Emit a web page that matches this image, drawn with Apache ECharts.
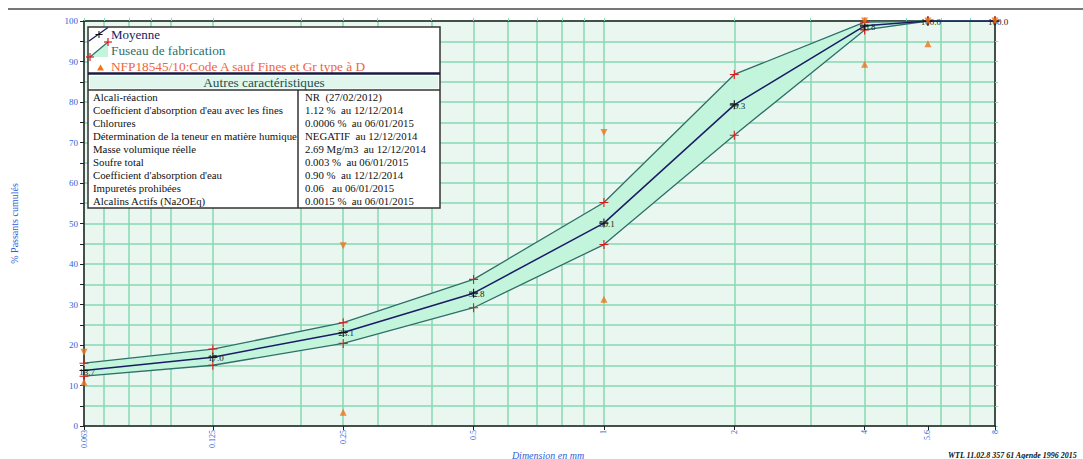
<!DOCTYPE html>
<html>
<head>
<meta charset="utf-8">
<script src="https://cdn.jsdelivr.net/npm/echarts@6.0.0/dist/echarts.min.js"></script>
<style>
  html, body { margin: 0; padding: 0; background: #ffffff; }
  #chart { width: 1083px; height: 459px; }
</style>
</head>
<body>
<div id="chart"></div>
<script>
// Sieve sizes (mm) and passing percentages
const tamis = [0.063, 0.125, 0.25, 0.5, 1, 2, 4, 5.6, 8];
const moyenne = [13.7, 17.0, 23.1, 32.8, 50.1, 79.3, 98.8, 100.0, 100.0];
const fuseauHaut = [15.5, 19.0, 25.5, 36.2, 55.2, 86.8, 99.7, 100, 100];
const fuseauBas = [12.3, 15.0, 20.4, 29.2, 44.8, 71.8, 97.8, 100, 100];

// NF P 18-545 limits (code A)
const tamisNorme = [0.063, 0.25, 1, 4, 5.6, 8];
const normeMax = [18.2, 44.5, 72.5, 100, 100, 100];
const normeMin = [10.8, 3.4, 31.3, 89.3, 94.4, null];

// Axis ticks
const tamisLabels = [0.063, 0.125, 0.25, 0.5, 1, 2, 4, 5.6, 8];
const tamisGrille = [0.063, 0.07, 0.08, 0.09, 0.1, 0.125, 0.2, 0.25, 0.3, 0.4, 0.5,
                     0.6, 0.7, 0.8, 0.9, 1, 2, 3, 4, 5, 6, 7, 8];

// Other characteristics table
const caracNoms = [
  "Alcali-réaction",
  "Coefficient d'absorption d'eau avec les fines",
  "Chlorures",
  "Détermination de la teneur en matière humique",
  "Masse volumique réelle",
  "Soufre total",
  "Coefficient d'absorption d'eau",
  "Impuretés prohibées",
  "Alcalins Actifs (Na2OEq)"
];
const caracValeurs = [
  "NR  (27/02/2012)",
  "1.12 %  au 12/12/2014",
  "0.0006 %  au 06/01/2015",
  "NEGATIF  au 12/12/2014",
  "2.69 Mg/m3  au 12/12/2014",
  "0.003 %  au 06/01/2015",
  "0.90 %  au 12/12/2014",
  "0.06   au 06/01/2015",
  "0.0015 %  au 06/01/2015"
];

const SERIF = '"Liberation Serif", "DejaVu Serif", serif';
const BLUE = '#2f62d6';
const GRID_GREEN = '#86d9b4';
const BAND = '#c3f5dd';
const PLOT_BG = '#e9f7f0';
const NAVY = '#1b1b66';
const TEAL = '#2f6f69';
const RED = '#e01818';
const ORANGE = '#ef7418';
const PLUS = 'path://M4.4,0H5.6V10H4.4Z M0,4.4H10V5.6H0Z';

const pairs = (xs, ys) => xs.map((x, i) => [x, ys[i]]);

function fmtTamis(v) {
  return String(+Number(v).toPrecision(3));
}

// Band between the lower and upper production limits, one quad per sieve interval
function renderFuseau(params, api) {
  const i = params.dataIndex;
  if (i >= tamis.length - 1) return null;
  const hautA = api.coord([tamis[i], fuseauHaut[i]]);
  const hautB = api.coord([tamis[i + 1], fuseauHaut[i + 1]]);
  const basB = api.coord([tamis[i + 1], fuseauBas[i + 1]]);
  const basA = api.coord([tamis[i], fuseauBas[i]]);
  return {
    type: 'polygon',
    shape: { points: [hautA, hautB, basB, basA] },
    style: { fill: BAND, stroke: BAND, lineWidth: 0.6 }
  };
}

// Legend and characteristics box
const bx = 88, by = 27, bw = 352, bh = 181;
const graphics = [
  { type: 'line', shape: { x1: 8, y1: 9, x2: 1083, y2: 9 }, style: { stroke: '#4a4a4a', lineWidth: 1.5 }, z: 100 },
  { type: 'rect', shape: { x: bx, y: by, width: bw, height: bh }, style: { fill: '#ffffff', stroke: '#333333', lineWidth: 1.5 }, z: 100 },
  // Moyenne entry
  { type: 'line', shape: { x1: 89, y1: 41, x2: 108, y2: 27.5 }, style: { stroke: NAVY, lineWidth: 1.3 }, z: 101 },
  { type: 'line', shape: { x1: 95.5, y1: 34.5, x2: 102.5, y2: 34.5 }, style: { stroke: '#111', lineWidth: 1 }, z: 102 },
  { type: 'line', shape: { x1: 99, y1: 31, x2: 99, y2: 38 }, style: { stroke: '#111', lineWidth: 1 }, z: 102 },
  { type: 'text', x: 111, y: 34.5, style: { text: 'Moyenne', font: '13px ' + SERIF, fill: NAVY, verticalAlign: 'middle' }, z: 101 },
  // Fuseau entry
  { type: 'polygon', shape: { points: [[90, 57], [108, 42], [108, 57]] }, style: { fill: BAND, stroke: null }, z: 101 },
  { type: 'line', shape: { x1: 90, y1: 57, x2: 108, y2: 42 }, style: { stroke: TEAL, lineWidth: 1.2 }, z: 102 },
  { type: 'line', shape: { x1: 86, y1: 57, x2: 94, y2: 57 }, style: { stroke: RED, lineWidth: 1.2 }, z: 103 },
  { type: 'line', shape: { x1: 90, y1: 53, x2: 90, y2: 61 }, style: { stroke: RED, lineWidth: 1.2 }, z: 103 },
  { type: 'line', shape: { x1: 104, y1: 42, x2: 112, y2: 42 }, style: { stroke: RED, lineWidth: 1.2 }, z: 103 },
  { type: 'line', shape: { x1: 108, y1: 38, x2: 108, y2: 46 }, style: { stroke: RED, lineWidth: 1.2 }, z: 103 },
  { type: 'text', x: 111, y: 50, style: { text: 'Fuseau de fabrication', font: '13.3px ' + SERIF, fill: TEAL, verticalAlign: 'middle' }, z: 101 },
  // Norme entry
  { type: 'polygon', shape: { points: [[97, 70.5], [100.5, 64.5], [104, 70.5]] }, style: { fill: ORANGE }, z: 101 },
  { type: 'text', x: 111, y: 66, style: { text: 'NFP18545/10:Code A sauf Fines et Gr type à D', font: '13.3px ' + SERIF, fill: '#f0643a', verticalAlign: 'middle' }, z: 101 },
  // Separator and header
  { type: 'line', shape: { x1: bx, y1: 73.5, x2: bx + bw, y2: 73.5 }, style: { stroke: '#1a1a44', lineWidth: 2.5 }, z: 101 },
  { type: 'rect', shape: { x: 90, y: 76, width: 348, height: 12.5 }, style: { fill: '#e0f6ec' }, z: 101 },
  { type: 'text', x: 264, y: 82.5, style: { text: 'Autres caractéristiques', font: '13.3px ' + SERIF, fill: '#24504f', align: 'center', verticalAlign: 'middle' }, z: 102 },
  { type: 'line', shape: { x1: bx, y1: 90, x2: bx + bw, y2: 90 }, style: { stroke: '#333333', lineWidth: 1.5 }, z: 101 },
  { type: 'line', shape: { x1: 298, y1: 90, x2: 298, y2: by + bh }, style: { stroke: '#333333', lineWidth: 1.5 }, z: 101 },
  // Footer texts
  { type: 'text', x: 548, y: 455, style: { text: 'Dimension en mm', font: 'italic 10px ' + SERIF, fill: BLUE, align: 'center', verticalAlign: 'middle' }, z: 101 },
  { type: 'text', x: 948, y: 455, style: { text: 'WTL 11.02.8 357 61 Agende 1996 2015', font: 'italic bold 8px ' + SERIF, fill: '#111', verticalAlign: 'middle' }, z: 101 }
];
caracNoms.forEach((nom, i) => {
  const y = 96.8 + i * 13.0;
  graphics.push({ type: 'text', x: 93, y: y, style: { text: nom, font: '10.8px ' + SERIF, fill: '#111', verticalAlign: 'middle' }, z: 102 });
  graphics.push({ type: 'text', x: 305, y: y, style: { text: caracValeurs[i], font: '10.8px ' + SERIF, fill: '#111', verticalAlign: 'middle' }, z: 102 });
});

const chart = echarts.init(document.getElementById('chart'), null, { renderer: 'svg' });
chart.setOption({
  animation: false,
  backgroundColor: '#ffffff',
  grid: {
    left: 84, right: 88, top: 21, bottom: 33,
    show: true, backgroundColor: PLOT_BG, borderWidth: 0
  },
  xAxis: [
    {
      type: 'log', min: 0.063, max: 8, position: 'bottom',
      axisLine: { show: true, onZero: false, lineStyle: { color: '#222', width: 1.5 } },
      axisTick: { show: true, customValues: tamisLabels, length: 4, lineStyle: { color: '#222' } },
      axisLabel: { show: true, customValues: tamisLabels, rotate: 90, color: BLUE, fontFamily: SERIF, fontSize: 8, margin: 4, formatter: fmtTamis },
      splitLine: { show: false }
    },
    {
      type: 'log', min: 0.063, max: 8, position: 'top',
      axisLine: { show: true, onZero: false, lineStyle: { color: '#222', width: 1.5 } },
      axisTick: { show: true, customValues: tamisGrille, length: 3, lineStyle: { color: GRID_GREEN } },
      axisLabel: { show: false, customValues: tamisGrille },
      splitLine: { show: true, lineStyle: { color: GRID_GREEN, width: 1.5 } }
    }
  ],
  yAxis: [
    {
      type: 'value', min: 0, max: 100, interval: 5, position: 'left',
      name: '% Passants cumulés', nameLocation: 'middle', nameRotate: 90, nameGap: 65,
      nameTextStyle: { color: BLUE, fontFamily: SERIF, fontSize: 10 },
      axisLine: { show: true, lineStyle: { color: '#222', width: 1.5 } },
      axisTick: { show: true, length: 4, lineStyle: { color: '#222' } },
      axisLabel: {
        show: true, color: BLUE, fontFamily: SERIF, fontSize: 9, margin: 6,
        formatter: v => (v % 10 === 0 ? String(v) : '')
      },
      splitLine: { show: true, lineStyle: { color: GRID_GREEN, width: 1.5 } }
    },
    {
      type: 'value', min: 0, max: 100, interval: 5, position: 'right',
      axisLine: { show: true, lineStyle: { color: '#222', width: 1.5 } },
      axisTick: { show: true, length: 3, lineStyle: { color: GRID_GREEN } },
      axisLabel: { show: false },
      splitLine: { show: false }
    }
  ],
  graphic: graphics,
  series: [
    {
      name: 'Fuseau', type: 'custom',
      data: tamis.map((x, i) => [x, fuseauBas[i], fuseauHaut[i]]),
      encode: { x: 0, y: [1, 2] },
      renderItem: renderFuseau, z: 2, silent: true
    },
    {
      name: 'Fuseau bas', type: 'line',
      data: pairs(tamis, fuseauBas),
      symbol: PLUS, symbolSize: 9, itemStyle: { color: RED },
      lineStyle: { color: TEAL, width: 1.3 }, z: 3
    },
    {
      name: 'Fuseau haut', type: 'line',
      data: pairs(tamis, fuseauHaut),
      symbol: PLUS, symbolSize: 9, itemStyle: { color: RED },
      lineStyle: { color: TEAL, width: 1.3 }, z: 3
    },
    {
      name: 'Moyenne', type: 'line',
      data: pairs(tamis, moyenne),
      symbol: PLUS, symbolSize: 9, itemStyle: { color: '#111' },
      lineStyle: { color: NAVY, width: 1.5 }, z: 4,
      label: {
        show: true, position: 'inside', offset: [3, 1],
        color: '#222', fontFamily: SERIF, fontSize: 9,
        formatter: p => p.value[1].toFixed(1)
      }
    },
    {
      name: 'Norme max', type: 'scatter',
      data: pairs(tamisNorme, normeMax),
      symbol: 'triangle', symbolRotate: 180, symbolSize: 7,
      itemStyle: { color: ORANGE }, z: 5, clip: false
    },
    {
      name: 'Norme min', type: 'scatter',
      data: pairs(tamisNorme, normeMin).filter(d => d[1] !== null),
      symbol: 'triangle', symbolSize: 7,
      itemStyle: { color: ORANGE }, z: 5, clip: false
    }
  ]
});
</script>
</body>
</html>
